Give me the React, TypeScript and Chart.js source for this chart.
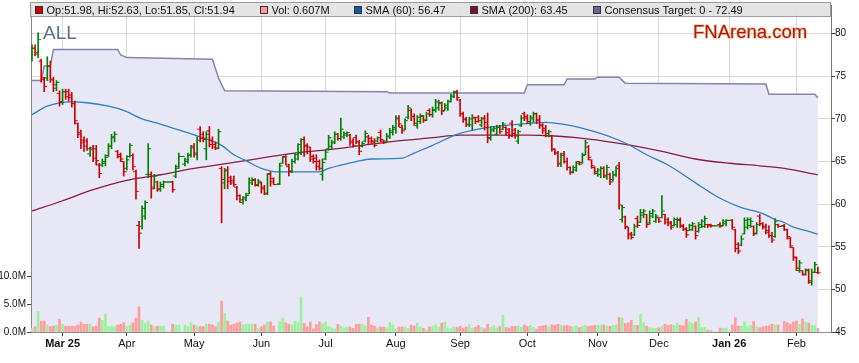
import React, { useEffect, useRef } from 'react';
import { Chart, registerables } from 'chart.js';

Chart.register(...registerables);

// ---- Daily bars (index 0 = 17 Feb 2025, one slot per weekday) ----
const openP = [
  77.0, 78.3, 77.8, 76.8, 74.6, 74.8, 76.2, 74.6, 73.6, 73.0,
  72.0, 73.2, 73.2, 72.8, 71.8, 69.5, 68.4, 67.5, 67.4, 65.9,
  66.6, 66.5, 64.6, 64.6, 64.8, 65.7, 66.8, 67.8, 66.2, 65.8,
  65.0, 64.2, 65.6, 65.7, 63.8, 57.5, 57.4, 58.6, 63.5, 63.5,
  62.0, 62.6, 61.7, 62.1, 62.6, 62.6, 62.6, 63.3, 64.2, 65.6,
  64.7, 65.0, 65.7, 66.8, 65.8, 68.8, 68.2, 66.5, 68.6, 67.5,
  67.0, 66.6, 64.2, 62.5, 64.0, 63.1, 62.8, 62.0, 61.0, 60.2,
  60.6, 61.2, 62.5, 62.8, 62.3, 62.5, 62.0, 61.2, 63.6, 63.0,
  62.3, 62.4, 64.8, 65.6, 64.4, 63.9, 65.0, 65.3, 66.0, 67.6,
  66.9, 66.7, 65.6, 65.4, 65.0, 63.5, 65.3, 66.5, 66.8, 67.3,
  68.2, 67.7, 67.9, 68.1, 68.1, 67.4, 67.8, 67.3, 66.8, 67.4,
  67.9, 67.7, 67.4, 67.4, 68.4, 67.4, 67.4, 67.9, 68.4, 68.8,
  70.1, 69.0, 68.8, 70.2, 71.0, 70.3, 69.2, 69.7, 70.3, 69.9,
  71.0, 70.5, 71.0, 71.3, 71.8, 71.0, 71.3, 72.1, 72.6, 73.2,
  72.2, 70.6, 70.0, 69.3, 69.3, 70.1, 70.2, 69.3, 70.1, 69.6,
  67.7, 68.6, 68.2, 69.0, 68.8, 69.0, 68.8, 69.5, 68.7, 67.4,
  69.2, 70.6, 70.3, 69.5, 70.0, 70.6, 69.9, 69.3, 68.9, 68.0,
  68.0, 66.4, 66.0, 64.7, 65.9, 65.0, 64.3, 63.8, 64.0, 65.0,
  64.9, 65.8, 66.7, 65.2, 64.3, 63.6, 63.5, 64.2, 63.2, 63.5,
  62.9, 63.4, 64.5, 58.2, 58.5, 57.3, 56.5, 56.4, 58.3, 57.9,
  58.7, 58.8, 57.8, 58.6, 58.0, 58.4, 58.4, 58.8, 58.2, 57.9,
  57.5, 57.6, 58.2, 57.5, 57.1, 56.9, 57.0, 57.4, 56.8, 57.3,
  57.4, 57.6, 57.6, 57.46, 57.46, 57.6, 57.5, 57.7, 58.1, 58.1,
  57.0, 55.3, 55.2, 56.5, 57.3, 57.5, 57.4, 56.6, 58.6, 57.7,
  57.4, 56.9, 56.3, 56.2, 57.6, 57.4, 57.5, 57.0, 56.0, 54.9,
  53.8, 52.2, 52.2, 51.7, 52.3, 50.8, 52.0, 51.98,
];
const highP = [
  78.7, 78.7, 80.1, 77.0, 74.9, 77.3, 76.8, 74.9, 74.5, 73.3,
  73.5, 73.5, 73.5, 73.1, 72.1, 69.5, 68.7, 67.9, 67.7, 66.7,
  66.9, 66.9, 64.8, 65.3, 65.8, 67.1, 68.2, 68.5, 66.3, 66.0,
  65.0, 65.7, 67.1, 65.9, 64.0, 58.0, 59.8, 60.4, 67.1, 63.8,
  63.5, 62.7, 62.6, 62.7, 62.6, 62.6, 62.7, 64.6, 66.0, 65.6,
  65.4, 66.0, 66.9, 67.1, 67.9, 69.1, 68.5, 68.5, 69.1, 67.9,
  67.3, 68.8, 64.4, 64.2, 64.4, 63.3, 63.3, 62.1, 61.1, 60.9,
  61.3, 63.1, 63.1, 63.0, 62.9, 62.6, 62.2, 63.6, 63.8, 63.1,
  62.3, 64.8, 65.6, 65.7, 64.7, 65.3, 66.0, 67.1, 67.7, 67.9,
  67.1, 66.7, 65.8, 65.8, 65.2, 65.3, 66.35, 68.1, 67.5, 68.5,
  68.3, 70.1, 68.5, 68.5, 68.2, 67.7, 68.1, 67.5, 67.3, 68.6,
  68.1, 67.9, 67.7, 67.9, 68.7, 67.5, 68.3, 68.9, 69.25, 70.4,
  70.4, 69.25, 70.0, 71.6, 71.2, 70.6, 70.4, 70.6, 70.4, 70.8,
  71.2, 71.4, 72.3, 72.2, 72.0, 71.8, 72.2, 72.9, 73.3, 73.4,
  72.3, 70.8, 70.2, 70.2, 70.5, 70.2, 70.4, 70.2, 70.4, 70.7,
  69.1, 69.1, 69.25, 69.25, 69.6, 69.1, 68.9, 69.8, 68.9, 68.7,
  70.4, 70.8, 70.5, 70.4, 70.8, 70.7, 70.4, 69.45, 69.25, 68.7,
  68.1, 66.5, 66.2, 66.0, 66.2, 65.4, 64.4, 64.5, 65.0, 65.0,
  66.0, 67.5, 66.9, 65.2, 64.4, 64.2, 64.4, 64.4, 64.6, 63.65,
  63.85, 64.4, 64.9, 59.9, 58.6, 57.3, 56.7, 57.65, 58.6, 59.4,
  59.4, 58.8, 59.2, 59.4, 58.8, 58.4, 61.0, 58.8, 58.4, 58.0,
  58.4, 58.4, 58.4, 57.65, 57.26, 57.65, 57.85, 57.46, 57.85, 58.2,
  58.6, 57.65, 57.65, 57.46, 57.46, 57.85, 58.2, 58.2, 58.1, 58.2,
  57.07, 55.5, 56.3, 58.4, 58.4, 58.4, 57.46, 57.85, 58.8, 57.85,
  57.65, 57.46, 56.7, 58.3, 57.65, 57.4, 57.65, 57.07, 56.1, 54.9,
  53.8, 53.4, 52.2, 52.4, 52.4, 52.4, 53.2, 52.63,
];
const lowP = [
  76.8, 77.4, 77.2, 74.3, 73.2, 74.5, 74.3, 73.2, 73.3, 71.5,
  71.7, 72.3, 72.1, 71.4, 69.4, 67.8, 66.5, 66.2, 66.3, 65.6,
  65.0, 64.6, 63.1, 64.4, 64.5, 65.6, 66.5, 67.3, 65.4, 65.0,
  63.3, 64.0, 65.5, 64.0, 60.6, 54.8, 57.1, 58.2, 63.1, 60.7,
  61.8, 61.5, 61.5, 61.9, 62.6, 62.6, 61.4, 63.1, 64.2, 65.6,
  64.5, 64.8, 65.5, 65.5, 65.2, 67.3, 67.3, 65.2, 66.7, 66.5,
  66.4, 66.5, 57.8, 61.8, 61.8, 62.3, 62.1, 60.5, 60.2, 60.0,
  60.4, 61.2, 62.3, 62.1, 62.1, 61.3, 61.1, 61.1, 62.1, 62.3,
  62.3, 62.3, 64.8, 64.6, 63.3, 63.7, 64.8, 65.2, 65.8, 65.6,
  65.9, 65.0, 64.8, 64.0, 64.0, 62.8, 65.2, 66.35, 66.5, 67.1,
  67.5, 67.5, 67.7, 67.9, 66.9, 66.7, 67.1, 65.8, 66.7, 67.3,
  67.1, 67.1, 66.7, 67.3, 67.3, 67.1, 67.3, 67.7, 68.1, 68.3,
  69.1, 68.3, 68.7, 70.0, 69.8, 69.25, 68.9, 69.45, 69.6, 69.8,
  70.3, 70.2, 70.8, 71.0, 70.5, 71.0, 71.0, 72.0, 72.5, 72.2,
  70.3, 69.6, 69.1, 69.1, 68.7, 69.45, 69.6, 69.1, 68.7, 67.2,
  67.5, 68.5, 68.1, 68.3, 68.7, 68.1, 67.7, 67.9, 67.7, 67.1,
  69.1, 69.8, 69.45, 69.25, 69.6, 69.45, 68.9, 68.3, 67.9, 67.9,
  66.2, 65.8, 64.4, 64.4, 64.8, 64.0, 63.5, 63.65, 63.85, 64.6,
  64.8, 65.8, 65.2, 64.2, 63.5, 63.26, 63.1, 63.1, 62.9, 62.3,
  62.7, 63.26, 59.4, 57.9, 57.1, 55.9, 55.9, 56.3, 57.26, 57.85,
  58.4, 57.26, 57.65, 58.4, 57.85, 57.85, 58.4, 57.65, 57.46, 57.07,
  57.46, 57.26, 57.26, 56.9, 56.1, 56.9, 56.9, 55.9, 56.7, 57.26,
  57.26, 57.26, 57.3, 57.46, 57.46, 57.26, 57.46, 57.46, 58.1, 57.07,
  54.4, 54.2, 55.1, 56.5, 57.07, 57.26, 56.3, 56.5, 57.46, 57.07,
  56.5, 56.1, 55.5, 56.1, 57.26, 57.4, 56.9, 55.9, 54.9, 53.4,
  52.2, 52.0, 51.66, 51.66, 50.7, 50.5, 52.0, 51.85,
];
const closeP = [
  78.3, 77.6, 79.3, 74.8, 73.8, 76.2, 74.6, 74.0, 74.3, 72.0,
  73.2, 72.6, 72.5, 71.8, 69.8, 68.2, 67.2, 66.8, 66.5, 66.4,
  65.4, 65.1, 63.6, 65.0, 65.5, 66.8, 67.9, 68.2, 65.6, 65.3,
  63.8, 65.2, 66.9, 64.4, 61.5, 56.6, 59.5, 60.2, 66.5, 61.8,
  63.3, 61.8, 62.3, 62.6, 62.6, 62.6, 61.7, 64.4, 65.6, 65.6,
  65.2, 65.8, 66.6, 66.0, 67.5, 67.7, 67.6, 68.2, 67.0, 66.7,
  66.5, 68.5, 62.9, 63.9, 62.7, 62.5, 62.3, 61.0, 60.5, 60.8,
  61.0, 62.8, 62.9, 62.2, 62.7, 61.8, 61.3, 63.5, 62.6, 62.3,
  62.3, 64.5, 65.5, 64.6, 63.8, 65.0, 65.8, 67.0, 67.6, 66.8,
  66.2, 65.3, 65.0, 64.4, 64.2, 64.9, 66.1, 67.8, 67.2, 68.2,
  67.7, 68.8, 68.3, 68.4, 67.2, 66.9, 67.3, 66.2, 67.1, 68.3,
  67.4, 67.3, 66.9, 67.8, 67.6, 67.2, 68.0, 68.6, 69.0, 70.0,
  69.4, 68.6, 69.8, 71.3, 70.3, 69.5, 70.2, 70.4, 69.8, 70.6,
  70.5, 71.1, 72.0, 71.9, 70.9, 71.6, 72.0, 72.7, 73.1, 72.5,
  70.6, 69.9, 69.4, 70.0, 70.2, 69.7, 69.8, 70.0, 69.0, 67.8,
  68.8, 68.9, 69.0, 68.5, 69.4, 68.4, 68.0, 68.3, 68.0, 68.5,
  70.1, 70.1, 69.7, 70.2, 70.6, 69.8, 69.2, 68.6, 68.3, 68.5,
  66.5, 66.0, 64.8, 65.7, 65.0, 64.3, 63.7, 64.3, 64.8, 64.7,
  65.7, 67.2, 65.5, 64.5, 63.8, 64.0, 64.2, 63.4, 64.3, 62.6,
  63.5, 64.2, 59.9, 59.6, 57.4, 56.4, 56.1, 57.4, 57.5, 59.0,
  59.2, 57.6, 58.9, 59.2, 58.6, 58.0, 59.2, 57.9, 57.7, 57.3,
  58.2, 58.1, 57.4, 57.0, 56.4, 57.5, 57.7, 56.3, 57.6, 58.0,
  58.3, 57.46, 57.46, 57.46, 57.46, 57.4, 58.0, 58.1, 58.1, 57.3,
  54.8, 54.5, 55.9, 58.1, 58.2, 58.0, 56.5, 57.6, 57.7, 57.3,
  56.7, 56.3, 55.8, 58.0, 57.4, 57.4, 57.0, 56.2, 55.1, 53.7,
  52.5, 53.1, 51.8, 52.2, 51.0, 52.0, 52.9, 51.94,
];
// volume in millions of shares
const volumeM = [
  0.65, 0.95, 3.7, 1.95, 1.95, 1.25, 0.95, 1.05, 1.25, 2.25,
  1.4, 1.05, 1.05, 1.05, 1.05, 1.25, 1.8, 1.4, 1.4, 1.4,
  0.95, 1.05, 2.5, 2.1, 3.2, 0.95, 1.05, 0.95, 1.25, 1.4,
  1.65, 0.95, 1.25, 1.65, 2.5, 4.5, 2.1, 1.55, 1.95, 1.25,
  0.95, 1.05, 1.05, 1.05, 0, 0, 1.4, 1.25, 1.25, 0,
  1.25, 0.95, 1.65, 1.25, 1.05, 0.95, 0.95, 1.4, 1.4, 1.25,
  0.95, 1.8, 5.55, 3.4, 1.95, 1.25, 1.4, 1.65, 1.8, 1.25,
  1.4, 1.4, 1.4, 1.4, 0.65, 0.95, 1.25, 1.8, 1.8, 1.05,
  0, 1.8, 2.5, 1.65, 1.4, 1.25, 1.95, 1.65, 6.3, 1.55,
  0.95, 1.8, 0.55, 1.35, 1.8, 1.5, 1.8, 0.95, 0.75, 0.55,
  1.35, 1.05, 0.75, 0.9, 0.9, 0.65, 1.4, 1.4, 1.4, 1.1,
  2.65, 1.25, 1.05, 0.75, 0.9, 0.9, 0.75, 1.7, 1.25, 0.55,
  0.9, 0.9, 0.9, 0.65, 1.25, 1.1, 1.6, 0.9, 0.65, 0.35,
  0.9, 1.0, 1.3, 0.9, 1.6, 1.8, 0.7, 0.6, 0.9, 0.8,
  1.0, 0.7, 0.9, 1.3, 0.7, 0.8, 1.2, 0.8, 0.6, 1.4,
  0.8, 1.2, 0.7, 1.0, 3.0, 0.8, 0.7, 1.0, 1.0, 1.1,
  0.9, 1.3, 1.0, 1.2, 0.8, 0.5, 1.0, 1.1, 1.2, 0.9,
  1.3, 1.2, 1.4, 1.2, 1.1, 1.2, 1.0, 0.9, 1.1, 0.8,
  1.0, 1.2, 1.0, 1.1, 1.2, 1.25, 1.25, 1.25, 1.1, 1.0,
  1.2, 1.3, 2.6, 2.5, 1.5, 1.65, 2.1, 1.2, 1.2, 3.2,
  1.65, 1.05, 0.8, 0.65, 0.65, 0.75, 1.05, 1.4, 1.2, 1.3,
  1.2, 1.6, 1.2, 1.1, 2.25, 1.8, 1.5, 1.8, 2.6, 0.8,
  0.8, 0.35, 0.25, 0, 0, 0.7, 0.65, 0.7, 0, 1.25,
  2.6, 1.05, 1.05, 1.8, 0.95, 1.15, 1.9, 0.95, 0.8, 0.95,
  1.05, 1.15, 1.4, 1.25, 1.25, 0, 1.9, 1.65, 1.4, 1.8,
  2.0, 1.4, 2.35, 1.8, 1.65, 1.2, 1.2, 0.607,
];

// ---- Moving averages (bar index -> value) ----
const sma60Idx = [0, 5, 13, 18, 25, 30, 36, 42, 49, 55, 62, 66, 70, 75, 80, 86, 94, 97, 106, 111, 121, 125, 131, 139, 151, 162, 168, 175, 184, 192, 195, 201, 208, 217, 225, 232, 239, 243, 246, 249, 254, 257];
const sma60Val = [70.5, 71.5, 72.0, 71.9, 71.5, 71.0, 70.0, 69.4, 68.6, 67.9, 66.9, 65.8, 65.1, 64.2, 63.8, 63.8, 63.8, 64.2, 65.0, 65.3, 65.4, 66.0, 66.9, 68.2, 69.1, 69.45, 69.6, 69.3, 68.5, 67.5, 67.0, 65.8, 64.6, 62.5, 60.7, 59.6, 58.9, 58.2, 57.85, 57.3, 56.8, 56.47];
const sma200Idx = [0, 10, 20, 31, 42, 53, 66, 75, 86, 97, 108, 119, 131, 140, 151, 162, 171, 178, 187, 196, 206, 217, 228, 238, 246, 257];
const sma200Val = [59.2, 60.4, 61.7, 62.8, 63.45, 64.2, 64.9, 65.4, 66.0, 66.4, 66.9, 67.4, 67.8, 68.1, 68.1, 68.1, 68.0, 67.8, 67.4, 66.9, 66.2, 65.3, 64.8, 64.5, 64.2, 63.45];

// ---- Consensus target (bar index -> value) ----
const consIdx = [0, 3, 4, 6, 7, 28, 29, 31, 47, 59, 61, 63, 116, 117, 161, 162, 174, 175, 184, 185, 192, 194, 240, 241, 256, 257];
const consVal = [74.5, 74.5, 76.2, 76.2, 78.15, 78.15, 77.5, 77.2, 77.1, 77.0, 74.8, 73.3, 73.2, 73.05, 73.05, 74.0, 74.0, 74.7, 74.7, 74.9, 74.9, 74.2, 74.1, 72.9, 72.9, 72.49];

// ---- Axis ticks ----
const monthIdx = [10, 31, 53, 75, 96, 119, 140, 162, 185, 205, 228, 250];
const monthLabels = ['Mar 25', 'Apr', 'May', 'Jun', 'Jul', 'Aug', 'Sep', 'Oct', 'Nov', 'Dec', 'Jan 26', 'Feb'];
const monthBold = [true, false, false, false, false, false, false, false, false, false, true, false];
const volTicksM = [0, 5, 10];

const symbol = 'ALL';
const watermark = 'FNArena.com';

const FONT = '"Liberation Sans", Arial, Helvetica, sans-serif';
const UP = '#008000';
const DOWN = '#d00000';
const VOL_UP = '#9cf29c';
const VOL_DOWN = '#ff9c9c';
const SMA60_C = '#2f7fc1';
const SMA200_C = '#8a1c44';
const CONS_C = '#8484ad';
const CONS_FILL = '#e7e7f6';

export default function App() {
  const ref = useRef<HTMLCanvasElement>(null);

  useEffect(() => {
    if (!ref.current) return;
    Chart.defaults.font.family = FONT;
    const n = closeP.length;
    const last = n - 1;
    const up = closeP.map((c, i) => c >= openP[i]);
    const barCol = up.map((u) => (u ? UP : DOWN));
    const volCol = up.map((u) => (u ? VOL_UP : VOL_DOWN));

    const legendItems = [
      { color: '#cc0000', text: `Op:${openP[last].toFixed(2)}, Hi:${highP[last].toFixed(2)}, Lo:${lowP[last].toFixed(2)}, Cl:${closeP[last].toFixed(2)}` },
      { color: '#ff9999', text: `Vol: ${volumeM[last].toFixed(3)}M` },
      { color: '#0d5a9e', text: `SMA (60): ${sma60Val[sma60Val.length - 1].toFixed(2)}` },
      { color: '#7a0f2e', text: `SMA (200): ${sma200Val[sma200Val.length - 1].toFixed(2)}` },
      { color: '#66669a', text: `Consensus Target: 0 - ${consVal[consVal.length - 1].toFixed(2)}` },
    ];
    const legendX = [35, 260, 354, 470, 593];

    const overlay = {
      id: 'overlay',
      afterDraw(chart: any) {
        const ctx = chart.ctx as CanvasRenderingContext2D;
        const a = chart.chartArea;
        ctx.save();
        // legend bar
        ctx.fillStyle = 'rgba(224,224,224,0.88)';
        ctx.fillRect(a.left - 1, 2, a.right - a.left + 1, 15);
        ctx.strokeStyle = '#9c9c9c';
        ctx.lineWidth = 1;
        ctx.strokeRect(a.left - 0.5, 2.5, a.right - a.left, 14);
        ctx.font = `11px ${FONT}`;
        ctx.textBaseline = 'alphabetic';
        legendItems.forEach((it, k) => {
          const x = legendX[k];
          ctx.fillStyle = it.color;
          ctx.fillRect(x, 6, 8, 8);
          ctx.strokeStyle = '#333';
          ctx.strokeRect(x + 0.5, 6.5, 7, 7);
          ctx.fillStyle = '#111';
          ctx.fillText(it.text, x + 11.5, 14);
        });
        // symbol
        ctx.font = `19px ${FONT}`;
        ctx.lineWidth = 2;
        ctx.strokeStyle = 'rgba(255,255,255,0.8)';
        ctx.strokeText(symbol, 43, 39);
        ctx.fillStyle = '#5c6f86';
        ctx.fillText(symbol, 43, 39);
        // watermark
        ctx.font = `18.5px ${FONT}`;
        ctx.lineWidth = 1.4;
        ctx.strokeStyle = 'rgba(240,150,40,0.55)';
        ctx.strokeText(watermark, 693, 38);
        ctx.fillStyle = '#b3151b';
        ctx.fillText(watermark, 693, 38);
        ctx.restore();
      },
    };

    const chart = new Chart(ref.current, {
      type: 'bar',
      data: {
        datasets: [
          {
            type: 'line',
            label: 'Consensus Target',
            data: consIdx.map((x, k) => ({ x, y: consVal[k] })),
            yAxisID: 'y',
            borderColor: CONS_C,
            borderWidth: 1.5,
            backgroundColor: CONS_FILL,
            fill: 'start',
            pointRadius: 0,
            tension: 0,
            order: 10,
          } as any,
          {
            type: 'bar',
            label: 'Vol',
            data: volumeM.map((v, i) => ({ x: i, y: v })),
            yAxisID: 'y1',
            backgroundColor: volCol,
            barThickness: 2,
            grouped: false,
            borderWidth: 0,
            order: 9,
          } as any,
          {
            type: 'line',
            label: 'SMA (200)',
            data: sma200Idx.map((x, k) => ({ x, y: sma200Val[k] })),
            yAxisID: 'y',
            borderColor: SMA200_C,
            borderWidth: 1.3,
            pointRadius: 0,
            cubicInterpolationMode: 'monotone',
            fill: false,
            order: 6,
          } as any,
          {
            type: 'line',
            label: 'SMA (60)',
            data: sma60Idx.map((x, k) => ({ x, y: sma60Val[k] })),
            yAxisID: 'y',
            borderColor: SMA60_C,
            borderWidth: 1.3,
            pointRadius: 0,
            cubicInterpolationMode: 'monotone',
            fill: false,
            order: 5,
          } as any,
          {
            type: 'bar',
            label: 'HL',
            data: highP.map((h, i) => ({ x: i, y: [lowP[i], h] })),
            yAxisID: 'y',
            backgroundColor: barCol,
            barThickness: 1,
            grouped: false,
            borderWidth: 0,
            order: 3,
          } as any,
          {
            type: 'line',
            label: 'Open',
            data: openP.map((o, i) => ({ x: i - 0.5, y: o })),
            yAxisID: 'y',
            showLine: false,
            pointStyle: 'line',
            pointRadius: 1.3,
            pointBorderWidth: 1,
            pointBorderColor: barCol,
            pointBackgroundColor: barCol,
            fill: false,
            order: 2,
          } as any,
          {
            type: 'line',
            label: 'Close',
            data: closeP.map((c, i) => ({ x: i + 0.5, y: c })),
            yAxisID: 'y',
            showLine: false,
            pointStyle: 'line',
            pointRadius: 1.3,
            pointBorderWidth: 1,
            pointBorderColor: barCol,
            pointBackgroundColor: barCol,
            fill: false,
            order: 1,
          } as any,
        ],
      },
      options: {
        animation: false,
        responsive: true,
        maintainAspectRatio: false,
        events: [],
        layout: { padding: { top: 2, left: 0, right: 0, bottom: 0 } },
        plugins: {
          legend: { display: false },
          tooltip: { enabled: false },
          title: { display: false },
        },
        scales: {
          x: {
            type: 'linear',
            min: -0.33,
            max: 261.3,
            offset: false,
            afterBuildTicks: (s: any) => {
              s.ticks = monthIdx.map((v) => ({ value: v }));
            },
            afterFit: (s: any) => {
              s.height = 31;
              s.paddingLeft = 0;
              s.paddingRight = 0;
            },
            ticks: {
              autoSkip: false,
              maxRotation: 0,
              padding: 1,
              color: '#111',
              callback: (v: any) => {
                const k = monthIdx.indexOf(Number(v));
                return k >= 0 ? monthLabels[k] : '';
              },
              font: (c: any) => ({ size: 11, weight: monthBold[c.index] ? 'bold' : 'normal' }),
            },
            grid: { color: '#d9d9d9', offset: false, tickLength: 4, tickColor: '#444' },
            border: { color: '#8a8a8a' },
          },
          y: {
            type: 'linear',
            position: 'right',
            min: 45,
            max: 83.37,
            afterFit: (s: any) => {
              s.width = 28;
              s.paddingTop = 0;
              s.paddingBottom = 0;
            },
            ticks: {
              stepSize: 5,
              includeBounds: false,
              padding: 0,
              color: '#111',
              font: { size: 10 },
            },
            grid: { color: '#d9d9d9', tickLength: 4, tickColor: '#444' },
            border: { color: '#777' },
          },
          y1: {
            type: 'linear',
            position: 'left',
            min: 0,
            max: 58.7,
            afterBuildTicks: (s: any) => {
              s.ticks = volTicksM.map((v) => ({ value: v }));
            },
            afterFit: (s: any) => {
              s.width = 31;
              s.paddingTop = 0;
              s.paddingBottom = 0;
            },
            ticks: {
              padding: 1,
              color: '#111',
              font: { size: 10 },
              callback: (v: any) => `${Number(v).toFixed(1)}M`,
            },
            grid: { drawOnChartArea: false, tickLength: 4, tickColor: '#444' },
            border: { color: '#8a8a8a' },
          },
        },
      } as any,
      plugins: [overlay],
    });
    return () => chart.destroy();
  }, []);

  return (
    <div style={{ position: 'fixed', left: 0, top: 0, width: 859, height: 363, background: '#fff' }}>
      <canvas ref={ref} />
    </div>
  );
}
